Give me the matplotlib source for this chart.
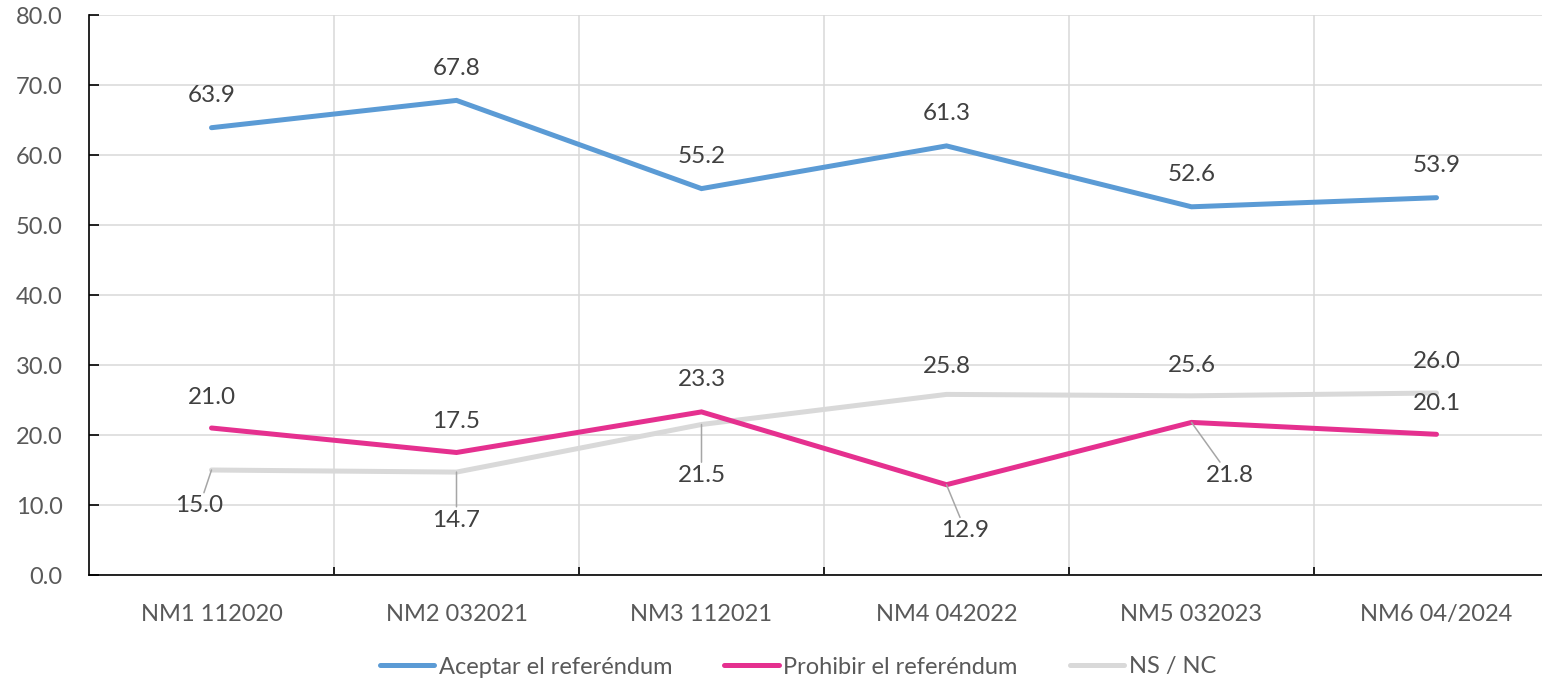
import numpy as np
import matplotlib.pyplot as plt
from matplotlib.ticker import MultipleLocator, FixedLocator

# --- datos ---
categorias = ['NM1 112020', 'NM2 032021', 'NM3 112021', 'NM4 042022', 'NM5 032023', 'NM6 04/2024']
aceptar = [63.9, 67.8, 55.2, 61.3, 52.6, 53.9]
prohibir = [21.0, 17.5, 23.3, 12.9, 21.8, 20.1]
nsnc = [15.0, 14.7, 21.5, 25.8, 25.6, 26.0]
nombres = ['Aceptar el referéndum', 'Prohibir el referéndum', 'NS / NC']

# desplazamiento de etiquetas (pixeles): (dx, dy)
off_aceptar = [(0, 32)] * 6
off_prohibir = [(0, 31), (0, 31), (0, 32), (19, -46), (38, -53), (0, 31)]
off_nsnc = [(-12, -36), (0, -48), (0, -51), (0, 28), (0, 30), (0, 31)]

plt.rcParams['font.family'] = ['Lato', 'DejaVu Sans']

fig = plt.figure(figsize=(15.42, 6.81), dpi=100)
ax = fig.add_axes([89/1542, 106/681, 1470/1542, 560/681])

x = np.arange(len(categorias))
colores = ['#5B9BD5', '#E5308F', '#D9D9D9']
series = [aceptar, prohibir, nsnc]
offs = [off_aceptar, off_prohibir, off_nsnc]

for s, c, n in zip(series[::-1], colores[::-1], nombres[::-1]):
    ax.plot(x, s, color=c, lw=3.6, solid_capstyle='round', solid_joinstyle='miter', label=n, zorder=3)

for s, off in zip(series, offs):
    for xi, v, (dx, dy) in zip(x, s, off):
        lider = abs(dy) > 40 or dx != 0
        ax.annotate(f'{v:.1f}', (xi, v), xytext=(dx, dy), textcoords='offset pixels',
                    ha='center', va='center', fontsize=17.5, color='#404040', zorder=5,
                    arrowprops=dict(arrowstyle='-', color='#A6A6A6', lw=1.1,
                                    shrinkA=0, shrinkB=0) if lider else None)

ax.set_xlim(-0.5, 5.5)
ax.set_ylim(0, 80)
ax.yaxis.set_major_locator(MultipleLocator(10))
ax.set_yticklabels([f'{v:.1f}' for v in ax.get_yticks()])
ax.set_xticks(x)
ax.set_xticklabels(categorias)
ax.xaxis.set_minor_locator(FixedLocator(np.arange(0.5, 5.6, 1)))

ax.grid(axis='y', color='#D9D9D9', lw=1.1, zorder=0)
ax.grid(axis='x', which='minor', color='#D9D9D9', lw=1.1, zorder=0)
ax.tick_params(axis='x', which='major', length=0, pad=21, labelsize=17, labelcolor='#595959')
ax.tick_params(axis='x', which='minor', direction='in', length=6, width=1.2, color='black')
ax.tick_params(axis='y', direction='in', length=7, width=1.2, color='black', pad=19,
               labelsize=17, labelcolor='#595959')
for lado in ['top', 'right']:
    ax.spines[lado].set_visible(False)
for lado in ['left', 'bottom']:
    ax.spines[lado].set_color('black')
    ax.spines[lado].set_linewidth(1.2)

h, l = ax.get_legend_handles_labels()
fig.legend(h[::-1], l[::-1], loc='center', bbox_to_anchor=(798/1542, 1 - 667/681), ncol=3,
           frameon=False, fontsize=17, labelcolor='#595959', handlelength=2.3,
           handletextpad=0.2, columnspacing=2.2)

fig.savefig('out.png', dpi=100)
